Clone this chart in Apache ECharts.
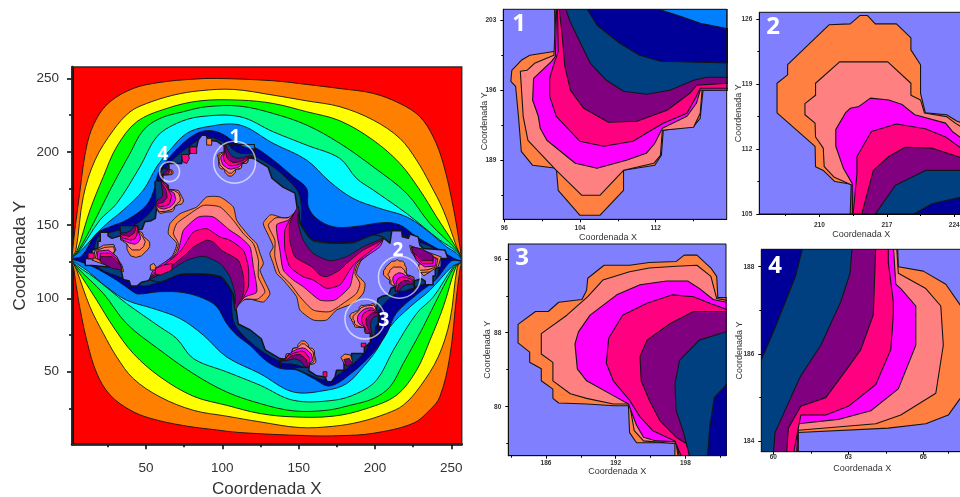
<!DOCTYPE html>
<html><head><meta charset="utf-8">
<style>html,body{margin:0;padding:0;background:#fff;overflow:hidden}#c{width:960px;height:497px}</style>
<script src="https://cdn.jsdelivr.net/npm/echarts@6/dist/echarts.min.js"></script>
</head><body><div id="c"></div>
<script>
// colours of the contour levels
const RED='#ff0000',ORANGE='#ff8000',YELLOW='#ffff00',GREEN='#00ff00',SPRING='#00ff80',CYAN='#00ffff',AZURE='#0080ff',NAVY='#000099',DEEP='#004080',PURPLE='#800080',PINK='#ff0080',MAGENTA='#ff00ff',SALMON='#ff8080',CORAL='#ff8040',BODY='#8080ff';

// ---- wide contours of the whole map (data units)
const contourOrange=[[1.5,127],[6.8,174],[11.5,205.8],[17.7,222.8],[26.4,234.2],[41.7,243.3],[59.1,247.4],[81,249.6],[96.2,250.1],[133.3,248.5],[155.2,246],[177,243.2],[198.8,239.9],[216.3,233],[229.4,224],[238.1,210.3],[244.7,192.1],[251.2,162.6],[255.6,135.3],[256.6,125.5],[255.6,119.4],[253.4,101.2],[249,60.3],[242.5,33],[235.9,23.9],[225,14.8],[198.8,8],[177,6.4],[155.2,6.4],[111.5,8.5],[96.2,10.3],[74.4,13.3],[52.6,18.3],[39.5,23.9],[26.4,34.2],[17.7,49],[11.1,71.7],[5.7,99],[2.8,119.4]];
const contourYellow=[[1.5,127],[4.1,133],[8.9,169.4],[16.6,194.4],[28.6,214.8],[39.5,227.3],[50.4,233],[67.9,238.7],[85.3,241.7],[107.2,242.6],[133.3,238.7],[155.2,234.8],[177,230.8],[198.8,221.7],[216.3,209.2],[227.2,194.4],[235.9,178.5],[244.7,160.3],[253.4,135.3],[256.6,125.5],[253.9,121.5],[249.1,85.1],[241.4,60.1],[229.4,39.7],[218.5,27.2],[207.6,21.5],[190.1,15.8],[172.7,12.8],[150.8,11.9],[124.7,15.8],[102.8,19.7],[81,23.7],[59.2,32.8],[41.7,45.3],[30.8,60.1],[22.1,76],[13.3,94.2],[4.6,119.2]];
const contourGreen=[[1.5,127],[5,133],[13.3,160.3],[22,183],[30.8,203.5],[43.9,220.5],[63.5,229.6],[85.3,234.8],[111.5,235.3],[133.3,233],[155.2,227.4],[177,221.2],[198.8,208],[216.3,192.1],[229.4,173.9],[240.3,155.7],[253.4,134.2],[256.6,125.5],[253,121.5],[244.7,94.2],[236,71.5],[227.2,51],[214.1,34],[194.5,24.9],[172.7,19.7],[146.5,19.2],[124.7,21.5],[102.8,27.1],[81,33.3],[59.2,46.5],[41.7,62.4],[28.6,80.6],[17.7,98.8],[4.6,120.3]];
const contourSpring=[[1.5,127],[5.9,133],[15.5,151.2],[26.4,173.9],[39.5,198.9],[48.2,214.8],[59.1,222.8],[74.4,227.4],[89.7,230.8],[111.5,231.2],[133.3,226.2],[155.2,218.3],[177,205.8],[198.8,189.8],[220.7,171.7],[235.9,151.2],[253.4,133],[256.6,125.5],[252.1,121.5],[242.5,103.3],[231.6,80.6],[218.5,55.6],[209.8,39.7],[198.9,31.7],[183.6,27.1],[168.3,23.7],[146.5,23.3],[124.7,28.3],[102.8,36.2],[81,48.7],[59.2,64.7],[37.3,82.8],[22.1,103.3],[4.6,121.5]];
const contourCyan=[[1.5,127],[6.7,133],[19.8,153.5],[30.8,164.8],[46,189.8],[57,210.3],[70,219.4],[85.3,224],[111.5,224],[133.3,213.7],[155.2,204.6],[177,195.5],[187.9,181.9],[198.8,174],[220.7,158],[231.6,148.9],[242.5,139.8],[253.4,131.9],[256.6,125.5],[251.3,121.5],[238.2,101],[227.2,89.7],[212,64.7],[201,44.2],[188,35.1],[172.7,30.5],[146.5,30.5],[124.7,40.8],[102.8,49.9],[81,59],[70.1,72.6],[59.2,80.5],[37.3,96.5],[26.4,105.6],[15.5,114.7],[4.6,122.6]];
const contourAzure=[[1.5,127],[7.8,133],[22,148.9],[35.1,160.3],[48.2,173.9],[57,189.8],[65.7,201.2],[76.6,212.6],[89.7,217.1],[111.5,218.3],[133.3,205.8],[155.2,194.4],[170.4,179.6],[185.7,168.2],[203.2,161.4],[220.7,155.7],[233.7,146.7],[246.8,135.3],[253.4,130.7],[256.6,125.5],[250.2,121.5],[236,105.6],[222.9,94.2],[209.8,80.6],[201,64.7],[192.3,53.3],[181.4,41.9],[168.3,37.4],[146.5,36.2],[124.7,48.7],[102.8,60.1],[87.6,74.9],[72.3,86.3],[54.8,93.1],[37.3,98.8],[24.3,107.8],[11.2,119.2],[4.6,123.8]];
const contourNavy=[[1.5,127],[8,129],[17.6,144.4],[26.4,148.9],[37.3,153.5],[50.4,163.7],[55.9,176.2],[58,185.3],[65.7,196.7],[76.6,208],[87.5,214.2],[98.4,213],[111.5,204.6],[120.2,203.5],[133.3,194.4],[146.4,183],[155.2,175],[156.3,162.6],[161.7,154.6],[172.6,148.9],[185.7,148.9],[205.4,151.7],[216.3,150.1],[227.2,142.1],[242.5,133],[252.3,127],[256.6,125.5],[250,125.5],[240,113],[229,104],[214,90],[207.6,76],[198.8,63],[185.7,50],[170.4,40.3],[159.5,45.5],[148.6,51.2],[137.7,52.3],[128,58],[118.1,68],[109.3,75.1],[102.8,83],[96.3,94.4],[87.5,100.1],[74.4,104],[59.1,104.6],[44.9,103],[41.7,104.4],[30.8,112.4],[15.5,121.5],[5.7,125.5]];
const contourDeep=[[18,141],[30,146],[42,150],[52,158],[58,168],[60,178],[63,188],[68,195],[76,202],[86,209],[92,210],[100,207],[115,200],[130,192],[142,182],[150,172],[152,160],[152,150],[159,140],[170,137.6],[186,138],[199,143],[210,146],[225,140],[240,132],[240,113.5],[228,108.5],[216,104.5],[206,96.5],[200,86.5],[198,76.5],[195,66.5],[190,59.5],[182,52.5],[172,45.5],[166,44.5],[158,47.5],[143,54.5],[128,62.5],[116,72.5],[108,82.5],[106,94.5],[106,104.5],[99,114.5],[88,116.9],[72,116.5],[59,111.5],[48,108.5],[33,114.5],[18,122.5]];
const bodyOutline=[[10.2,127.3],[14.6,127.3],[14.6,133],[18.5,134.1],[18.5,139.1],[20,139.1],[20,145.1],[25.1,145.1],[25.1,142.7],[27.7,141],[33.1,142.7],[38.6,145.5],[47.4,147.3],[49.2,152.3],[52.8,152.8],[56.1,154.6],[57,162.5],[59.1,170.5],[61.1,177.3],[61,184.2],[65,188.4],[65,192.1],[73.4,192.1],[73.4,197.8],[78.3,198.2],[78.3,203.4],[83.2,203.4],[84.2,208],[86.5,211.4],[89.3,211.4],[90.8,208],[96.3,207.3],[99.6,205],[101.3,204],[101.3,199.9],[117,196],[120.3,195.5],[129.9,189.6],[132.5,182],[139.7,176],[147.6,171.9],[148.9,162.3],[149.7,160.3],[150.8,151.2],[158.4,139.8],[170.4,137.6],[185.7,138],[198.8,143.2],[205.4,141.5],[209.8,137.8],[211,146.2],[217.5,146.2],[217.9,142.1],[221.8,141],[222.9,143.9],[228.3,142],[229.4,136.4],[231.6,134.1],[245.8,133],[247.8,127.2],[243.4,127.2],[243.4,121.5],[239.5,120.4],[239.5,115.4],[238,115.4],[238,109.4],[232.9,109.4],[232.9,111.8],[230.3,113.5],[224.9,111.8],[219.4,109],[210.6,107.2],[208.8,102.2],[205.2,101.7],[201.9,99.9],[201,92],[198.9,84],[196.9,77.2],[197,70.3],[193,66.1],[193,62.4],[184.6,62.4],[184.6,56.7],[179.7,56.3],[179.7,51.1],[174.8,51.1],[173.8,46.5],[171.5,43.1],[168.7,43.1],[167.2,46.5],[161.7,47.2],[158.4,49.5],[156.7,50.5],[156.7,54.6],[141,58.5],[137.7,59],[128.1,64.9],[125.5,72.5],[118.3,78.5],[110.4,82.6],[109.1,92.2],[108.3,94.2],[107.2,103.3],[99.6,114.7],[87.6,116.9],[72.3,116.5],[59.2,111.3],[52.6,113],[50.8,112],[47,111],[44,108.5],[40,108.5],[39,112],[35,113],[34,118],[33,120.7],[14.6,122.4],[10.2,122.4]];

// ---- big lobe on the right
const rightCoral=[[133.3,157],[131.1,156.9],[126.8,151.2],[130.1,143.2],[133.3,135.3],[131.1,130.7],[133.3,123.9],[135.5,117.1],[139.9,112.6],[148.6,101.2],[150.8,92.1],[159.5,85.3],[168.3,85.3],[174.8,92.1],[185.7,96.7],[192.3,103.5],[193.4,110.3],[187.9,117.1],[191.2,126.2],[203.2,137.6],[205.4,141.5],[198.8,143.2],[185.7,138],[170.4,137.6],[158.4,139.8],[150.8,151.2],[149.7,160.3],[146,156],[139.9,155]];
const rightSalmon=[[135,155],[130.1,150],[134.4,139.8],[134.4,128.5],[137.7,117.1],[144.2,110.3],[150.8,101.2],[159.5,92.1],[170.4,91],[179.2,96.7],[187.9,103.5],[190.1,110.3],[186.8,117.1],[189,123.9],[203.2,136.4],[205.4,141.5],[198.8,143.2],[185.7,138],[170.4,137.6],[158.4,139.8],[150.8,151.2],[149.7,160.3],[143,155]];
const rightMagenta=[[143.2,153.5],[135.5,150.1],[137.7,133],[139.9,119.4],[146.4,112.6],[153,108],[163.9,98.9],[173.7,98.9],[183.5,108],[185.7,117],[187.9,123.9],[203.2,135.3],[205.4,141.5],[198.8,143.2],[185.7,138],[170.4,137.6],[158.4,139.8],[150.8,151.2],[149.7,160.3]];
const rightPink=[[145.3,155.7],[141,146.7],[141,133],[144.2,121.7],[153,114.8],[159.5,112.6],[168.3,106.9],[177,109.2],[183.5,119.4],[186.8,123.9],[203.2,137.6],[205.4,141.5],[198.8,143.2],[185.7,138],[170.4,137.6],[158.4,139.8],[150.8,151.2],[149.7,160.3]];
const rightPurple=[[149.7,162.6],[144.2,151.2],[144.2,139.8],[147.5,128.5],[158.4,121.7],[163.9,116],[168.3,114.8],[177,119.4],[181.4,123.9],[192.3,133],[205.4,140.5],[198.8,143.2],[185.7,138],[170.4,137.6],[158.4,139.8],[150.8,151.2]];
const rightDeep=[[149.7,158],[149.7,151.2],[153,139.8],[159.5,130.7],[170.4,125.7],[181.4,128.5],[192.3,135.3],[205.4,141.5],[198.8,143.2],[185.7,138],[170.4,137.6],[158.4,139.8],[150.8,151.2]];
// ---- big lobe on the left
const leftCoral=[[126.9,97.6],[131.2,103.3],[127.9,111.3],[124.7,119.2],[126.9,123.8],[124.7,130.6],[122.5,137.4],[118.1,141.9],[109.4,153.3],[107.2,162.4],[98.5,169.2],[89.7,169.2],[83.2,162.4],[72.3,157.8],[65.7,151],[64.6,144.2],[70.1,137.4],[66.8,128.3],[54.8,116.9],[52.6,113],[59.2,111.3],[72.3,116.5],[87.6,116.9],[99.6,114.7],[107.2,103.3],[108.3,94.2],[112,98.5],[118.1,99.5]];
const leftSalmon=[[123,99.5],[127.9,104.5],[123.6,114.7],[123.6,126],[120.3,137.4],[113.8,144.2],[107.2,153.3],[98.5,162.4],[87.6,163.5],[78.8,157.8],[70.1,151],[67.9,144.2],[71.2,137.4],[69,130.6],[54.8,118.1],[52.6,113],[59.2,111.3],[72.3,116.5],[87.6,116.9],[99.6,114.7],[107.2,103.3],[108.3,94.2],[115,99.5]];
const leftMagenta=[[114.8,101],[122.5,104.4],[120.3,121.5],[118.1,135.1],[111.6,141.9],[105,146.5],[94.1,155.6],[84.3,155.6],[74.5,146.5],[72.3,137.5],[70.1,130.6],[54.8,119.2],[52.6,113],[59.2,111.3],[72.3,116.5],[87.6,116.9],[99.6,114.7],[107.2,103.3],[108.3,94.2]];
const leftPink=[[112.7,98.8],[117,107.8],[117,121.5],[113.8,132.8],[105,139.7],[98.5,141.9],[89.7,147.6],[81,145.3],[74.5,135.1],[71.2,130.6],[54.8,116.9],[52.6,113],[59.2,111.3],[72.3,116.5],[87.6,116.9],[99.6,114.7],[107.2,103.3],[108.3,94.2]];
const leftPurple=[[108.3,91.9],[113.8,103.3],[113.8,114.7],[110.5,126],[99.6,132.8],[94.1,138.5],[89.7,139.7],[81,135.1],[76.6,130.6],[65.7,121.5],[52.6,114],[59.2,111.3],[72.3,116.5],[87.6,116.9],[99.6,114.7],[107.2,103.3]];
const leftDeep=[[108.3,96.5],[108.3,103.3],[105,114.7],[98.5,123.8],[87.6,128.8],[76.6,126],[65.7,119.2],[52.6,113],[59.2,111.3],[72.3,116.5],[87.6,116.9],[99.6,114.7],[107.2,103.3]];

// ---- lobe 1 (panel 1)
const lobe1Coral=[[101.3,205],[101.4,199.9],[98.7,199.5],[97.8,199],[96.8,198],[96.7,196.9],[97.2,196.4],[97.5,193.4],[97.8,189.9],[99,188.5],[101.5,188.2],[101.7,186],[104,183.5],[106.1,183.5],[108.6,186],[108.6,188],[111.9,188.5],[112.6,189.5],[112.8,192],[116,192.4],[116.7,193.2],[117,196],[121,196.1],[121,205]];
const lobe1Salmon=[[101.5,205],[101.25,199.5],[99.2,198.7],[98.4,198],[97.7,197.9],[97.8,196.4],[98,193.4],[98.5,191],[101.5,188],[104.2,185.5],[106.1,185.5],[108.6,188],[111.8,188.7],[112.5,189.5],[112.7,192],[116,192.3],[116.7,193.7],[116.9,196],[121,196.1],[121,205]];
const lobe1Magenta=[[101.55,205],[101.4,199.4],[101,198.9],[99.1,197.2],[99,195],[99.6,193.4],[99.8,192.2],[100.5,191],[103.5,188.7],[105.8,188.2],[108.9,189],[111,189.7],[111.9,190.7],[112.7,192.2],[115.3,193.4],[116.3,194.7],[116.7,196],[121,196],[121,205]];
const lobe1Pink=[[101.6,205],[101.7,199.9],[101.1,198.2],[100.8,197.2],[100.8,195.4],[101.5,193.4],[104,190.9],[106.5,190.4],[109.6,190.9],[111,191.7],[112.8,192.7],[115.3,193.7],[116.3,195.4],[116.7,196.2],[121,196.2],[121,205]];
const lobe1Purple=[[101.7,205],[102.1,201.7],[102.4,198.4],[103,196],[104.4,194.2],[107,192.8],[110,192.9],[113.2,194],[115.6,195.7],[116.3,196.5],[121,196.8],[121,205]];
const lobe1Deep=[[102.2,205],[102.9,203],[103.8,201.2],[105.1,198.7],[106.8,197],[108.6,195.9],[111,195.6],[113.5,196],[116,197],[117.4,197.3],[121,197.3],[121,205]];
const lobe1Navy=[[104.2,205],[105.8,202.5],[108.2,200.7],[110.3,199.5],[112.5,198.9],[121,198.7],[121,205]];
const lobe1Azure=[[112.3,205],[112.3,204.1],[114.6,203.4],[116.7,202.7],[121,201.9],[121,205]];
// ---- lobe 2 (panel 2)
const lobe2Coral=[[213.2,105],[213.3,108.2],[211.6,108.5],[210.4,109.7],[209.6,110.1],[209.55,112.3],[205.6,115.9],[205.6,119.1],[206.7,120],[206.7,121.1],[211,125.4],[213.2,125.5],[214.2,126.4],[215,126.4],[215.8,125.5],[218,125.5],[219.5,124],[219.5,122.7],[220.5,121.1],[220.5,118],[221,115.9],[223.2,115.7],[224.3,115],[225.5,114.6],[225.5,105]];
const lobe2Salmon=[[213.4,105],[213.4,108.1],[211.5,109],[210.5,110.1],[210.4,112.1],[209.6,113.3],[209.55,114.8],[208.5,115.7],[208.5,116.9],[209.6,117.8],[209.6,119.1],[212.1,121.4],[217.1,121.4],[219.5,119.1],[219.5,117.8],[220.5,117.3],[220.9,115.9],[223.2,115.5],[224.1,114.8],[225.5,113.9],[225.5,105]];
const lobe2Magenta=[[213.45,105],[213.4,108.3],[212.5,109.9],[211.7,112.3],[211.7,114.1],[212.7,115.9],[213.2,116.4],[214.1,116.6],[215.3,117.5],[217.2,117.3],[218.6,116.8],[219.9,115.7],[223.1,114.8],[223.8,113.9],[225.5,112.6],[225.5,105]];
const lobe2Pink=[[213.5,105],[213.9,109.4],[213.9,111.2],[215.4,113.9],[218,114.7],[221,114.2],[223.1,113.3],[225.5,111.5],[225.5,105]];
const lobe2Purple=[[214.4,105],[215.6,109.7],[217.2,111.2],[218.9,112.2],[221.7,112.1],[225.5,110.8],[225.5,105]];
const lobe2Deep=[[215.8,105],[217.9,108.1],[221,109.7],[225.5,109.7],[225.5,105]];
const lobe2Navy=[[219.8,105],[221.7,106.1],[225.5,107],[225.5,105]];
// ---- lobe 3 (panel 3)
const lobe3Coral=[[202,91.8],[200.8,91.8],[200.7,94.1],[200.2,95],[199,96.4],[197.9,96.4],[197.2,95.7],[194.9,95.6],[193.2,95.3],[191,95.3],[189.6,93.9],[189.5,92.6],[189.1,91.6],[187.1,91.3],[186.2,90.3],[185.1,90.3],[183.6,88.9],[183.6,86.9],[184.6,85.9],[184.6,84.8],[185.6,84.1],[185.6,82.8],[186.6,81.9],[186.6,80.9],[187.1,80.4],[189.5,80.3],[191.9,80.1],[193.1,80.1],[193.2,77.2],[193.8,76.1],[197.1,76.1],[197.1,74.5],[202,74.5]];
const lobe3Salmon=[[202,91.4],[200.7,91.7],[200.2,94.1],[199,95.3],[197.2,95.2],[194.9,95],[193.2,94.6],[190.9,93.7],[189.6,91.9],[187.8,89.9],[185.6,87.9],[185.6,85.7],[186.6,84.8],[186.6,82.8],[188.1,81.4],[189.5,80.9],[191.8,80.3],[193.2,80.3],[193.6,77.4],[194.4,76.3],[197.2,76],[197.4,74.5],[202,74.5]];
const lobe3Magenta=[[202,91.2],[200.4,91.6],[199.2,92.8],[198.2,93.6],[196.4,93.6],[194.1,93.2],[192.1,92.1],[189.8,89.9],[188.8,88.1],[188.5,86.8],[188.7,84.1],[189.5,82.8],[191.8,81.2],[193.1,80.3],[193.8,78],[194.4,76.7],[195.5,76.3],[197.2,76.2],[197.5,74.5],[202,74.5]];
const lobe3Pink=[[202,90.3],[200.1,91.2],[198.7,91.9],[196.9,92.1],[194.7,91.2],[192.6,89.9],[191.4,87.4],[191.2,84.7],[191.8,82.8],[193.2,80.7],[194.1,78.9],[195.2,77.4],[197.1,76.3],[197.7,74.5],[202,74.5]];
const lobe3Purple=[[202,90.3],[198.7,90.3],[196.7,89],[194.7,87.2],[194.1,85.4],[194.2,82.8],[194.9,80.7],[195.8,78.5],[197.2,76.7],[198.1,76],[198.4,74.5],[202,74.5]];
const lobe3Deep=[[202,88.3],[199.2,87.2],[197.5,85],[197.1,82.5],[197.2,79.6],[197.8,77.4],[198.4,74.5],[202,74.5]];
const lobe3Navy=[[202,83],[200.5,81],[200.1,77.8],[199.9,74.5],[202,74.5]];
// ---- lobe 4 (panel 4)
const lobe4Coral=[[64.97,188.5],[65,188],[66,187.9],[66.9,187.6],[67.5,187.1],[67.7,186.3],[67.7,185.6],[67.5,185],[67,184.6],[66.1,184.4],[64.6,184.3],[61,184.2],[61,183.7],[59.4,183.7],[59.4,188.5]];
const lobe4Salmon=[[64.93,188.5],[65,187.85],[66.1,187.5],[66.7,187.1],[66.8,186.2],[66.5,185.1],[65.1,184.6],[64.1,184.4],[61,184.25],[60.97,183.7],[59.4,183.7],[59.4,188.5]];
const lobe4Magenta=[[64.8,188.5],[64.9,187.6],[65.1,187.5],[65.7,187.1],[65.7,186.2],[65,185.2],[63.9,184.7],[62.6,184.5],[61,184.4],[60.93,183.7],[59.4,183.7],[59.4,188.5]];
const lobe4Pink=[[64.6,188.5],[64.6,188.1],[64.8,187.2],[64.8,186.9],[64.7,186.1],[64.1,185.3],[63,184.8],[62.1,184.6],[61.1,184.6],[60.8,183.7],[59.4,183.7],[59.4,188.5]];
const lobe4Purple=[[64.1,188.5],[64,186.9],[63.5,186.1],[63,185.7],[62.1,185],[61.1,184.8],[60.6,184.3],[60.53,183.7],[59.4,183.7],[59.4,188.5]];
const lobe4Deep=[[63.16,188.5],[63.07,187.85],[62.7,187.2],[61.9,186.2],[61.1,185.5],[60.7,185],[60.07,184.2],[60,183.7],[59.4,183.7],[59.4,188.5]];
const lobe4Navy=[[61.2,188.5],[60.9,187.8],[60.07,186.6],[59.4,185.7],[59.4,188.5]];

// ---- smaller lobes seen only on the main map
const lobe3bCoral=[[56.5,162.7],[57.3,160.4],[59,158.1],[60.1,158.1],[63.1,158.9],[67,159.2],[68.4,160.6],[68.9,162.9],[71.8,164.2],[72.9,164.2],[74.4,165.6],[74.4,167.6],[73.4,169.5],[72.4,171.5],[71.4,173.5],[68.5,174.2],[64.8,174.5],[64.8,177.3],[60.9,178.5],[59.6,180],[56,180]];
const lobe3bSalmon=[[56.5,163.1],[57.8,160.4],[59,159.2],[63.1,159.5],[67.1,160.8],[70.2,164.6],[72.4,166.6],[72.4,168.8],[71.4,171.7],[68.5,173.6],[64.8,174.2],[63.6,178.2],[60.6,180],[56,180]];
const lobe3bMagenta=[[56.5,163.3],[58.8,161.7],[61.6,160.9],[65.9,162.4],[68.2,164.6],[69.5,167.7],[68.5,171.7],[64.9,174.2],[63.6,177.8],[60.5,180],[56,180]];
const lobe3bPink=[[56.5,164.2],[59.3,162.6],[63.3,163.3],[65.4,164.6],[66.8,169.8],[64.8,173.8],[62.8,177.1],[60.3,180],[56,180]];
const lobe3bPurple=[[56.5,164.2],[61.3,165.5],[63.9,169.1],[63.1,173.8],[60.8,177.8],[59.6,180],[56,180]];
const lobe3bDeep=[[56.5,166],[60.5,169.5],[60.9,172],[60.2,177.1],[59.6,180],[56,180]];
const lobe2bCoral=[[44.8,149.5],[44.7,146.3],[47.6,144.8],[48.4,142.2],[52.4,138.6],[52.4,135.4],[51.3,133.5],[47,129.1],[43.8,128.1],[43,128.1],[40,129],[38.5,131.5],[37.5,133.5],[37.5,136.5],[37,138.6],[33.4,139.9],[33,149.5]];
const lobe2bSalmon=[[44.6,149.5],[44.6,146.4],[47.6,142.4],[49.5,138.8],[48.4,135.4],[45.9,133.1],[40.9,133.1],[38.5,135.4],[37.5,137.2],[34.8,139],[33.4,140.6],[33,149.5]];
const lobe2bMagenta=[[44.6,149.5],[44.6,146.2],[46.3,142.2],[46.3,140.4],[44.8,138.1],[42.7,137],[39.4,137.7],[34.9,139.7],[33.4,141.9],[33,149.5]];
const lobe2bPink=[[44.5,149.5],[44.1,143.5],[42.6,140.6],[40,139.8],[34.9,141.2],[33.4,143],[33,149.5]];
const lobe2bPurple=[[43.6,149.5],[42.4,144.8],[39.1,142.3],[33.4,143.7],[33,149.5]];
const lobe2bDeep=[[42.2,149.5],[40.1,146.4],[37,144.8],[33.4,144.8],[33,149.5]];
const lobe1bCoral=[[156.7,53],[156.6,54.6],[160.2,55.5],[161.2,56.5],[161.3,57.6],[160.5,61.1],[160.2,64.6],[159,66],[156.5,66.3],[156.3,68.5],[154,71],[151.9,71],[149.4,68.5],[149.4,66.5],[146.1,66],[145.2,62.5],[142,62.1],[141,58.5],[138.4,58.4],[138,53]];
const lobe1bSalmon=[[156.7,53],[156.7,55],[159.6,56.5],[160.2,58.1],[159.5,63.5],[156.5,66.5],[153.8,69],[151.9,69],[149.4,66.5],[146.2,65.8],[145.3,62.5],[142,62.2],[141.1,58.5],[138,58.5],[138,53]];
const lobe1bMagenta=[[156.7,53],[157,55.6],[158.9,57.3],[159,59.5],[158.2,62.3],[154.5,65.8],[152.2,66.3],[149.1,65.5],[146.1,63.8],[142.7,61.1],[141.3,58.5],[138,58.5],[138,53]];
const lobe1bPink=[[156.5,53],[156.9,56.3],[157.2,59.1],[154,63.6],[151.5,64.1],[147,62.8],[142.7,60.8],[141.3,58.3],[138,58.3],[138,53]];
const lobe1bPurple=[[156,53],[155.6,56.1],[155,58.5],[151,61.7],[148,61.6],[144.8,60.5],[141.7,57.8],[138,57.5],[138,53]];
const lobe1bDeep=[[155,53],[154.2,53.3],[151.2,57.5],[147,58.9],[142,57.5],[138.5,57.2],[138,53]];
const lobe1bNavy=[[153.5,53],[152.2,53.5],[147.7,55],[138.5,55.8],[138,53]];
const sideCoral=[[16.8,133],[22.2,136.4],[28.8,136.9],[30.3,133],[28.8,130.8],[34.2,122.8],[35.3,118.3],[14.6,126.2]];
const sideSalmon=[[17.9,133],[23.3,134.9],[28.8,135.3],[29.4,132.3],[27.7,130.1],[33.2,122.8],[34.2,119.4],[16.8,127.4]];
const sideMagenta=[[18.5,132.4],[25.5,133],[31,128.5],[33.8,121.7],[29.9,120.5],[17.9,127.4]];
const sidePink=[[20,130.8],[26.6,130.8],[31.6,126.2],[33.8,121],[27.7,121],[20,126.2]];
const sidePurple=[[20,128.5],[27.7,128.5],[33.2,122.8],[34.2,119.4],[27.7,120.5],[20,125.1]];
const side2Coral=[[241.2,121.5],[235.8,118.1],[229.2,117.6],[227.7,121.5],[229.2,123.7],[223.8,131.7],[222.7,136.2],[243.4,128.3]];
const side2Salmon=[[240.1,121.5],[234.7,119.6],[229.2,119.2],[228.6,122.2],[230.3,124.4],[224.8,131.7],[223.8,135.1],[241.2,127.1]];
const side2Magenta=[[239.5,122.1],[232.5,121.5],[227,126],[224.2,132.8],[228.1,134],[240.1,127.1]];
const side2Pink=[[238,123.7],[231.4,123.7],[226.4,128.3],[224.2,133.5],[230.3,133.5],[238,128.3]];
const side2Purple=[[238,126],[230.3,126],[224.8,131.7],[223.8,135.1],[230.3,134],[238,129.4]];
const side2Drop=[[230,122],[236,122],[236,118],[232,115.5],[229.5,118]];
const bitA=[[52.8,122.8],[55,123.9],[56.5,121.7],[56.1,119.4],[52.8,119.4]];
const bitB=[[56.1,120.5],[61.5,122.8],[67,123.9],[67,119.4],[59.4,116],[56.1,116.4]];
const bitC=[[73.3,198.2],[77.7,198.2],[78.4,195.5],[76.6,192.1],[74,193.2]];
const bitD=[[78.8,203.4],[83.2,203.4],[83.2,198.9],[78.8,198.9]];
const bitE=[[89.7,209.1],[93,209.1],[93,204.6],[89.7,204.6]];
const bitF=[[177.6,59.8],[180.3,62.1],[184,61.4],[185.3,56.9],[180.3,54.6]];
const bitG=[[179.6,58.4],[183.1,59.1],[185.3,55.7],[181.4,53.4]];
const bitH=[[191,69.5],[194,69.5],[194,67],[191,67]];
const bitI=[[166,50],[168.5,50],[168.5,46.5],[166,46.5]];
const bitJ=[[12,131],[16,131],[16,127],[12,127]];

// ---- axes
const mainTicks=[50,100,150,200,250], mainMinor=[25,75,125,175,225];
const p1X=[96,104,112], p1Xm=[100,108,116], p1Y=[189,196,203], p1Ym=[185.5,192.5,199.5];
const p2X=[210,217,224], p2Xm=[206.5,213.5,220.5], p2Y=[105,112,119,126], p2Ym=[108.5,115.5,122.5];
const p3X=[186,192,198], p3Xm=[183,189,195,201], p3Y=[80,88,96], p3Ym=[76,84,92];
const p4X=[60,63,66], p4Xm=[61.5,64.5,67], p4Y=[184,186,188], p4Ym=[185,187];
const ringPoints=[[108,193,42],[216,114.5,42],[193.4,86,40],[65.4,186.5,20]];

const L=(pts,fill,smooth,lw)=>({pts,fill,smooth,lw});
const lobe1=[L(lobe1Coral,CORAL),L(lobe1Salmon,SALMON),L(lobe1Magenta,MAGENTA),L(lobe1Pink,PINK),L(lobe1Purple,PURPLE),L(lobe1Deep,DEEP),L(lobe1Navy,NAVY),L(lobe1Azure,AZURE)];
const lobe2=[L(lobe2Coral,CORAL),L(lobe2Salmon,SALMON),L(lobe2Magenta,MAGENTA),L(lobe2Pink,PINK),L(lobe2Purple,PURPLE),L(lobe2Deep,DEEP),L(lobe2Navy,NAVY)];
const lobe3=[L(lobe3Coral,CORAL),L(lobe3Salmon,SALMON),L(lobe3Magenta,MAGENTA),L(lobe3Pink,PINK),L(lobe3Purple,PURPLE),L(lobe3Deep,DEEP),L(lobe3Navy,NAVY)];
const lobe4=[L(lobe4Coral,CORAL),L(lobe4Salmon,SALMON),L(lobe4Magenta,MAGENTA),L(lobe4Pink,PINK),L(lobe4Purple,PURPLE),L(lobe4Deep,DEEP),L(lobe4Navy,NAVY)];
const S=0.35,T=0.2;
const mainLayers=[
 L(contourOrange,ORANGE,S),L(contourYellow,YELLOW,S),L(contourGreen,GREEN,S),L(contourSpring,SPRING,S),L(contourCyan,CYAN,S),L(contourAzure,AZURE,S),L(contourNavy,NAVY,S),L(contourDeep,DEEP,S),L(bodyOutline,BODY,0,1.5),
 L(rightCoral,CORAL,T),L(rightSalmon,SALMON,T),L(rightMagenta,MAGENTA,T),L(rightPink,PINK,T),L(rightPurple,PURPLE,T),L(rightDeep,DEEP,T),
 L(leftCoral,CORAL,T),L(leftSalmon,SALMON,T),L(leftMagenta,MAGENTA,T),L(leftPink,PINK,T),L(leftPurple,PURPLE,T),L(leftDeep,DEEP,T),
 ...lobe1,...lobe2,...lobe3,...lobe4,
 L(lobe3bCoral,CORAL),L(lobe3bSalmon,SALMON),L(lobe3bMagenta,MAGENTA),L(lobe3bPink,PINK),L(lobe3bPurple,PURPLE),L(lobe3bDeep,DEEP),
 L(lobe2bCoral,CORAL),L(lobe2bSalmon,SALMON),L(lobe2bMagenta,MAGENTA),L(lobe2bPink,PINK),L(lobe2bPurple,PURPLE),L(lobe2bDeep,DEEP),
 L(lobe1bCoral,CORAL),L(lobe1bSalmon,SALMON),L(lobe1bMagenta,MAGENTA),L(lobe1bPink,PINK),L(lobe1bPurple,PURPLE),L(lobe1bDeep,DEEP),L(lobe1bNavy,NAVY),
 L(sideCoral,CORAL),L(sideSalmon,SALMON),L(sideMagenta,MAGENTA),L(sidePink,PINK),L(sidePurple,PURPLE),L(side2Drop,CORAL),L(side2Coral,CORAL),L(side2Salmon,SALMON),L(side2Magenta,MAGENTA),L(side2Pink,PINK),L(side2Purple,PURPLE),
 L(bitA,CORAL),L(bitB,PINK),L(bitC,PINK),L(bitD,PINK),L(bitE,CORAL),L(bitF,CORAL),L(bitG,PURPLE),L(bitH,PINK),L(bitI,PINK),L(bitJ,PINK)
];

const panels=[
 {rect:[72,67,389.7,377.3],xr:[1.5,256.8],yr:[0.5,257.9],bg:RED,layers:mainLayers,xT:mainTicks,xM:mainMinor,yT:mainTicks,yM:mainMinor,main:true,xMar:17,yMar:13,xGap:36.5,yGap:43.5},
 {rect:[503.3,9.3,223.4,210],xr:[95.9,119.5],yr:[183.1,204.1],bg:BODY,layers:lobe1,xT:p1X,xM:p1Xm,yT:p1Y,yM:p1Ym,xMar:5,yMar:7,xGap:13.5,yGap:14.5,pad:[0,14,0,0]},
 {rect:[759.3,12.3,204,201.7],xr:[203.76,224.94],yr:[105,126.75],bg:BODY,layers:lobe2,xT:p2X,xM:p2Xm,yT:p2Y,yM:p2Ym,xMar:8,yMar:7,xGap:16.5,yGap:16.5},
 {rect:[508.3,244,217.7,211.7],xr:[182.76,201.5],yr:[74.7,97.6],bg:BODY,layers:lobe3,xT:p3X,xM:p3Xm,yT:p3Y,yM:p3Ym,xMar:4.5,yMar:7,xGap:11.5,yGap:16.5},
 {rect:[761.3,249.3,202,202.4],xr:[59.52,67.6],yr:[183.76,188.4],bg:BODY,layers:lobe4,xT:p4X,xM:p4Xm,yT:p4Y,yM:p4Ym,xMar:2.5,yMar:7,xGap:12,yGap:17.5}
];

const grids=[],xAxes=[],yAxes=[],series=[],graphics=[];
panels.forEach((p,i)=>{
  const [l,t,w,h]=p.rect, m=p.main;
  grids.push({left:l,top:t,width:w,height:h,show:true,backgroundColor:p.bg,borderWidth:0,containLabel:false,outerBoundsMode:'none'});
  const lineW=m?2.5:1, tickW=m?1.5:1, tickL=m?5:3, minorL=m?3:2;
  const labelStyle={color:'#333',fontSize:m?13.5:6.5,fontFamily:'Liberation Sans',fontWeight:m?'normal':'bold'};
  const nameStyle={color:'#333',fontSize:m?17:9,fontFamily:'Liberation Sans',padding:p.pad||0};
  const mk=(dim,range,ticks,minor,gap,mar)=>[
    {type:'value',gridIndex:i,min:range[0],max:range[1],scale:true,name:'Coordenada '+dim,nameLocation:'middle',nameGap:gap,nameMoveOverlap:false,nameTextStyle:nameStyle,
     axisLine:{show:true,onZero:false,lineStyle:{color:'#000',width:lineW}},
     axisTick:{show:true,length:tickL,lineStyle:{color:'#000',width:tickW},customValues:ticks},
     axisLabel:{show:true,customValues:ticks,hideOverlap:false,showMinLabel:true,showMaxLabel:true,margin:mar,...labelStyle},splitLine:{show:false},minorTick:{show:false}},
    {type:'value',gridIndex:i,min:range[0],max:range[1],scale:true,
     axisLine:{show:false,onZero:false},
     axisTick:{show:true,length:minorL,lineStyle:{color:'#000',width:tickW},customValues:minor},
     axisLabel:{show:false},splitLine:{show:false}}
  ];
  xAxes.push(...mk('X',p.xr,p.xT,p.xM,p.xGap,p.xMar).map(a=>({...a,position:'bottom'})));
  yAxes.push(...mk('Y',p.yr,p.yT,p.yM,p.yGap,p.yMar).map(a=>({...a,position:'left'})));
  series.push({type:'custom',coordinateSystem:'cartesian2d',xAxisIndex:2*i,yAxisIndex:2*i,clip:true,silent:true,animation:false,
    data:p.layers.map(a=>({value:a.pts[0]})),
    renderItem:(params,api)=>{
      const a=p.layers[params.dataIndex];
      return {type:'polygon',shape:{points:a.pts.map(q=>api.coord(q)),smooth:a.smooth||0},style:{fill:a.fill,stroke:'#141414',lineWidth:a.lw||(m?0.9:1.1),lineJoin:'round'}};
    }});
  graphics.push({type:'rect',z:50,silent:true,shape:{x:l,y:t,width:w,height:h},style:{fill:'none',stroke:m?'#2a2a2a':'#111',lineWidth:m?1.5:1}});
});
series.push({type:'scatter',xAxisIndex:0,yAxisIndex:0,silent:true,animation:false,z:5,data:ringPoints,
  symbolSize:v=>v[2],itemStyle:{color:'rgba(255,255,255,0)',borderColor:'rgba(255,255,255,0.8)',borderWidth:1.5}});
const tagMain=[['1',235,138],['2',398,251],['3',384,321],['4',163,155]];
tagMain.forEach(([s,x,y])=>graphics.push({type:'text',z:60,silent:true,x,y,style:{text:s,fill:'#fff',font:'bold 19px "Open Sans"',textAlign:'center',textVerticalAlign:'middle'}}));
const tagPanel=[['1',519,24],['2',773,27],['3',522,258],['4',775,266]];
tagPanel.forEach(([s,x,y])=>graphics.push({type:'text',z:60,silent:true,x,y,style:{text:s,fill:'#fff',font:'bold 24px "Open Sans"',textAlign:'center',textVerticalAlign:'middle'}}));

const chart=echarts.init(document.getElementById('c'),null,{renderer:'canvas'});
chart.setOption({animation:false,backgroundColor:'#fff',grid:grids,xAxis:xAxes,yAxis:yAxes,series,graphic:graphics});
</script></body></html>
